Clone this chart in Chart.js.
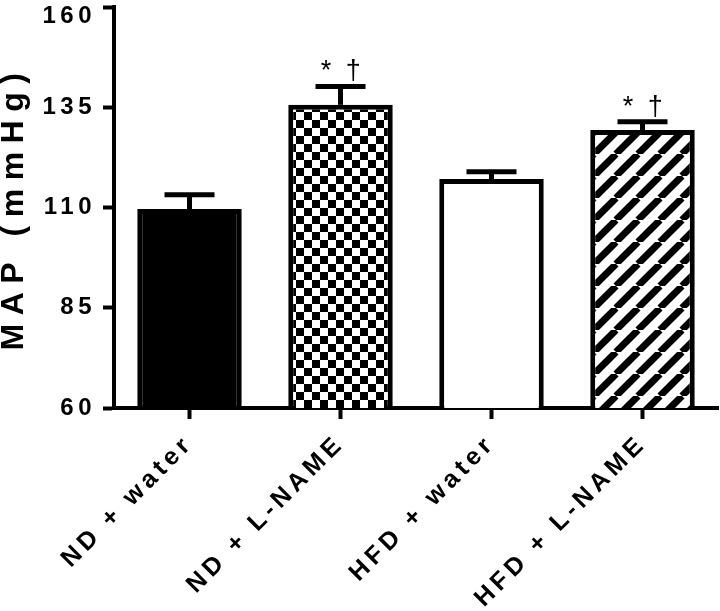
<!DOCTYPE html>
<html><head><meta charset="utf-8">
<script src="https://cdn.jsdelivr.net/npm/chart.js@4/dist/chart.umd.min.js"></script>
<style>html,body{margin:0;padding:0;background:#fff}</style>
</head><body>
<canvas id="c" width="720" height="611"></canvas>
<script>
const categories = ['ND + water', 'ND + L-NAME', 'HFD + water', 'HFD + L-NAME'];
const meanValues = [109.6, 135.6, 117.1, 129.3];
const errorTops = [113.2, 140.2, 118.9, 131.4];
const significance = ['', '* †', '', '* †'];
const yTicks = [60, 85, 110, 135, 160];
const yAxisTitle = 'MAP (mmHg)';

const FONT = "'Liberation Sans', Arial, sans-serif";

function checkerPattern() {
  const t = document.createElement('canvas'); t.width = 16; t.height = 16;
  const g = t.getContext('2d');
  g.fillStyle = '#fff'; g.fillRect(0, 0, 16, 16);
  g.fillStyle = '#000'; g.fillRect(0, 0, 8, 8); g.fillRect(8, 8, 8, 8);
  return g.createPattern(t, 'repeat');
}
function stripePattern() {
  const P = 22;
  const t = document.createElement('canvas'); t.width = P; t.height = P;
  const g = t.getContext('2d');
  g.fillStyle = '#fff'; g.fillRect(0, 0, P, P);
  g.strokeStyle = '#000'; g.lineWidth = 7;
  for (const o of [-P, 0, P]) { g.beginPath(); g.moveTo(o, P); g.lineTo(o + P, 0); g.stroke(); }
  return g.createPattern(t, 'repeat');
}
const fills = ['#000', checkerPattern(), '#fff', stripePattern()];

const spacingPlugin = {
  id: 'spacing',
  beforeUpdate(c) { c.ctx.letterSpacing = '4.5px'; },
  beforeDraw(c) { c.ctx.letterSpacing = '4.5px'; },
  afterUpdate(c) {
    const s = c.scales.y;
    if (s && !s._titlePatched) {
      const orig = s.drawTitle;
      s.drawTitle = function () {
        this.ctx.save(); this.ctx.letterSpacing = '8.5px';
        orig.apply(this, arguments);
        this.ctx.restore();
      };
      s._titlePatched = true;
    }
  }
};

const errorPlugin = {
  id: 'errorBars',
  afterDatasetsDraw(c) {
    const ctx = c.ctx, y = c.scales.y;
    const meta = c.getDatasetMeta(0);
    ctx.save();
    ctx.strokeStyle = '#000'; ctx.lineWidth = 5; ctx.lineCap = 'butt';
    meta.data.forEach((bar, i) => {
      const x = bar.x;
      const yb = y.getPixelForValue(meanValues[i]);
      const yt = y.getPixelForValue(errorTops[i]);
      ctx.beginPath(); ctx.moveTo(x, yb); ctx.lineTo(x, yt); ctx.stroke();
      ctx.beginPath(); ctx.moveTo(x - 25, yt); ctx.lineTo(x + 25, yt); ctx.stroke();
      if (significance[i]) {
        ctx.fillStyle = '#000';
        ctx.font = '27px ' + FONT;
        ctx.letterSpacing = '3.5px';
        ctx.textAlign = 'center'; ctx.textBaseline = 'alphabetic';
        ctx.fillText(significance[i], x + 2, yt - 7);
      }
    });
    ctx.restore();
  }
};

const tickFont = (ctx) => {
  const top = ctx.tick && ctx.tick.value === yTicks[yTicks.length - 1];
  return { family: FONT, size: 24, weight: 'bold', lineHeight: top ? 0.75 : 1.2 };
};

new Chart(document.getElementById('c'), {
  type: 'bar',
  data: {
    labels: categories,
    datasets: [{
      data: meanValues,
      backgroundColor: fills,
      borderColor: '#000',
      borderWidth: 5,
      barPercentage: 0.692,
      categoryPercentage: 1.0
    }]
  },
  options: {
    responsive: false,
    animation: false,
    devicePixelRatio: 1,
    layout: { padding: { top: 7, right: 2, left: 0, bottom: 0 } },
    plugins: { legend: { display: false }, tooltip: { enabled: false } },
    scales: {
      x: {
        type: 'category',
        grid: { display: true, drawOnChartArea: false, offset: false, tickLength: 11, tickWidth: 4, tickColor: '#000' },
        border: { display: true, width: 4, color: '#000' },
        ticks: {
          autoSkip: false, minRotation: 45, maxRotation: 45,
          color: '#000', padding: 10,
          font: { family: FONT, size: 25, weight: 'bold' }
        },
        afterFit(s) { s.height = 203; s.paddingLeft = 0; s.paddingRight = 0; }
      },
      y: {
        min: 60, max: 160,
        afterBuildTicks(s) { s.ticks = yTicks.map(v => ({ value: v })); },
        grid: { display: true, drawOnChartArea: false, tickLength: 11, tickWidth: 4, tickColor: '#000' },
        border: { display: true, width: 4, color: '#000' },
        ticks: {
          color: '#000', padding: 7, font: tickFont,
          callback: (v) => v === yTicks[yTicks.length - 1] ? ['', String(v)] : String(v)
        },
        title: {
          display: true, text: yAxisTitle, color: '#000', padding: 0,
          font: { family: FONT, size: 32, weight: 'bold', lineHeight: 0.9 }
        },
        afterFit(s) { s.width = 114; s.paddingTop = 0; s.paddingBottom = 0; }
      }
    }
  },
  plugins: [spacingPlugin, errorPlugin]
});
</script>
</body></html>
